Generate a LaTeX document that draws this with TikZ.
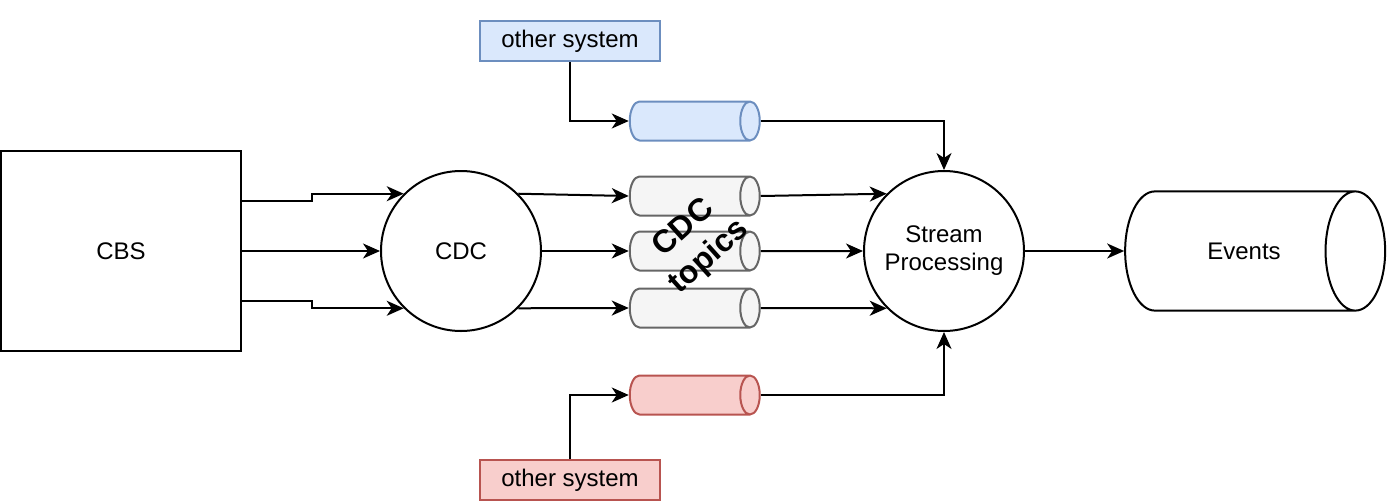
\documentclass[tikz,border=0pt]{standalone}
\usepackage{fontspec}
\setmainfont{Liberation Sans}
\usepackage{tikz}
\usepackage{xcolor}
\usetikzlibrary{arrows.meta,shapes.geometric,calc}
\definecolor{BleuFond}{HTML}{DAE8FC}
\definecolor{BleuTrait}{HTML}{6C8EBF}
\definecolor{GrisFond}{HTML}{F5F5F5}
\definecolor{GrisTrait}{HTML}{666666}
\definecolor{RougeFond}{HTML}{F8CECC}
\definecolor{RougeTrait}{HTML}{B85450}
\tikzset{
Fleche/.style={
 draw=black, 
 -{Stealth[length=17pt,width=15pt,inset=5pt]}
 },
Boite/.style={
 draw=black, 
 rectangle, 
 inner sep=0pt
 },
Rond/.style={
 draw=black, 
 circle, 
 minimum size=160, 
 inner sep=0pt
 },
Topic/.style 2 args={
 draw=#1, 
 fill=#2, 
 cylinder, 
 aspect=0.5, 
 inner xsep=0pt, 
 inner ysep=19.5pt, 
 minimum height=130
 },
Systeme/.style 2 args={
 draw=#1, 
 fill=#2, 
 rectangle, 
 minimum width=180, 
 minimum height=40, 
 inner sep=0pt
 }
}
\begin{document}
\begin{tikzpicture}[x=1pt,y=-1pt,line width=2pt,font=\fontsize{24}{28}\selectfont]
\useasboundingbox (0,0) rectangle (1400,501);
\node[Boite,minimum width=240,minimum height=200] (cbs) at (121,251) {CBS};
\node[Rond] (cdc) at (461,251) {CDC};
\node[Rond,align=center] (sp) at (944,251) {Stream\\Processing};
\node[Topic={BleuTrait}{BleuFond}] (tb) at (684.5,121) {};
\node[Topic={GrisTrait}{GrisFond}] (t1) at (684.5,196) {};
\node[Topic={GrisTrait}{GrisFond}] (t2) at (684.5,251) {};
\node[Topic={GrisTrait}{GrisFond}] (t3) at (684.5,308) {};
\node[Topic={RougeTrait}{RougeFond}] (tr) at (684.5,395) {};
\node[Topic={black}{white},text height=17.2pt,text depth=0pt,inner ysep=51pt,minimum height=260] (ev) at (1225,251) {\hspace*{38pt}Events};
\node[Systeme={BleuTrait}{BleuFond}] (sysb) at (570,41) {other system};
\node[Systeme={RougeTrait}{RougeFond}] (sysr) at (570,480) {other system};
\node[rotate=42,align=center,font=\fontsize{32}{38}\selectfont\bfseries] (lbl) at (697,243) {CDC\\topics};
% CBS vers CDC
\draw[Fleche] ($(cbs.east)+(0,-50)$) -- ++(70,0) |- (cdc.135);
\draw[Fleche] (cbs) -- (cdc);
\draw[Fleche] ($(cbs.east)+(0,50)$) -- ++(70,0) |- (cdc.225);
% CDC vers topics
\draw[Fleche] (cdc.45) -- (t1.west);
\draw[Fleche] (cdc) -- (t2);
\draw[Fleche] (cdc.-45) -- (t3.west);
% topics vers stream processing
\draw[Fleche] (t1.east) -- (sp.135);
\draw[Fleche] (t2) -- (sp);
\draw[Fleche] (t3.east) -- (sp.225);
\draw[Fleche] (sysb) |- (tb);
\draw[Fleche] (tb) -| (sp);
\draw[Fleche] (sysr) |- (tr);
\draw[Fleche] (tr) -| (sp);
\draw[Fleche] (sp) -- (ev);
\end{tikzpicture}
\end{document}
